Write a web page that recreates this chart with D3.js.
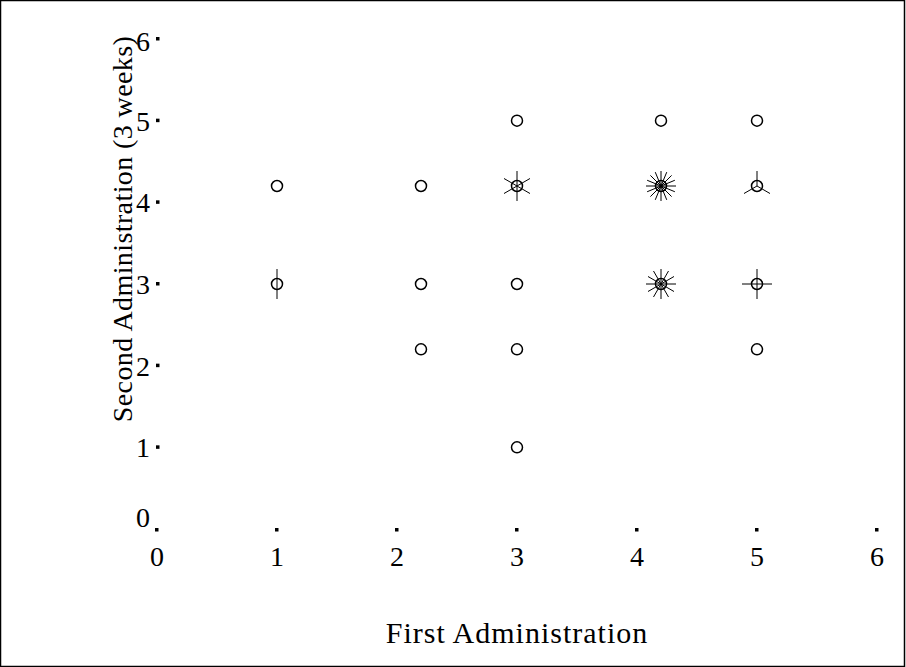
<!DOCTYPE html>
<html>
<head>
<meta charset="utf-8">
<script src="https://d3js.org/d3.v7.min.js"></script>
<style>
  body { margin: 0; background: #fff; }
  text { font-family: "Liberation Serif", "Times New Roman", serif; fill: #000; }
</style>
</head>
<body>
<script>
var svgWidth = 906;
var svgHeight = 667;

// Sunflower plot data: position and number of observations at each point
var firstAdmin  = [3, 4.2, 5, 1, 2.2, 3, 4.2, 5, 1, 2.2, 3, 4.2, 5, 2.2, 3, 5, 3];
var secondAdmin = [5, 5, 5, 4.2, 4.2, 4.2, 4.2, 4.2, 3, 3, 3, 3, 3, 2.2, 2.2, 2.2, 1];
var counts      = [1, 1, 1, 1, 1, 6, 16, 3, 2, 1, 1, 12, 4, 1, 1, 1, 1];

var tickValues = [0, 1, 2, 3, 4, 5, 6];

var points = firstAdmin.map(function(x, i) {
  return { x: x, y: secondAdmin[i], n: counts[i] };
});

var svg = d3.select("body")
  .append("svg")
  .attr("width", svgWidth)
  .attr("height", svgHeight);

// outer frame
svg.append("rect")
  .attr("x", 0.5).attr("y", 0.5)
  .attr("width", svgWidth - 2).attr("height", svgHeight - 1)
  .attr("fill", "none")
  .attr("stroke", "#000")
  .attr("stroke-width", 1.5);

var xScale = d3.scaleLinear().domain([0, 6]).range([157, 877]);
var yScale = d3.scaleLinear().domain([0, 6]).range([529, 39]);

// tick dots on the axes
svg.selectAll(".xdot")
  .data(tickValues)
  .enter()
  .append("rect")
  .attr("x", d => xScale(d) - 2)
  .attr("y", yScale(0) - 1)
  .attr("width", 3.5)
  .attr("height", 3.5)
  .attr("fill", "#000");

svg.selectAll(".ydot")
  .data(tickValues.slice(1))
  .enter()
  .append("rect")
  .attr("x", xScale(0) - 1)
  .attr("y", d => yScale(d) - 2)
  .attr("width", 3.5)
  .attr("height", 3.5)
  .attr("fill", "#000");

// tick labels
svg.selectAll(".xlab")
  .data(tickValues)
  .enter()
  .append("text")
  .attr("x", d => xScale(d))
  .attr("y", 566)
  .attr("text-anchor", "middle")
  .style("font-size", "28px")
  .text(d => d);

svg.selectAll(".ylab")
  .data(tickValues)
  .enter()
  .append("text")
  .attr("x", 150)
  .attr("y", d => d === 0 ? yScale(d) - 2 : (d === 6 ? yScale(d) + 12 : yScale(d) + 10))
  .attr("text-anchor", "end")
  .style("font-size", "28px")
  .text(d => d);

// axis titles
svg.append("text")
  .attr("x", 517)
  .attr("y", 643)
  .attr("text-anchor", "middle")
  .style("font-size", "30px")
  .style("letter-spacing", "1px")
  .text("First Administration");

svg.append("text")
  .attr("transform", "translate(132, 229) rotate(-90)")
  .attr("text-anchor", "middle")
  .style("font-size", "28px")
  .style("letter-spacing", "0.4px")
  .text("Second Administration (3 weeks)");

// sunflowers
var petalLen = 15;
var flowers = svg.selectAll(".flower")
  .data(points)
  .enter()
  .append("g")
  .attr("transform", d => `translate(${xScale(d.x)}, ${yScale(d.y)})`);

flowers.append("circle")
  .attr("r", 5.5)
  .attr("fill", "none")
  .attr("stroke", "#000")
  .attr("stroke-width", 1.5);

flowers.each(function(d) {
  if (d.n < 2) return;
  var g = d3.select(this);
  for (var k = 0; k < d.n; k++) {
    var a = Math.PI / 2 + 2 * Math.PI * k / d.n;
    g.append("line")
      .attr("x1", 0).attr("y1", 0)
      .attr("x2", petalLen * Math.cos(a))
      .attr("y2", -petalLen * Math.sin(a))
      .attr("stroke", "#000")
      .attr("stroke-width", 1);
  }
});
</script>
</body>
</html>
